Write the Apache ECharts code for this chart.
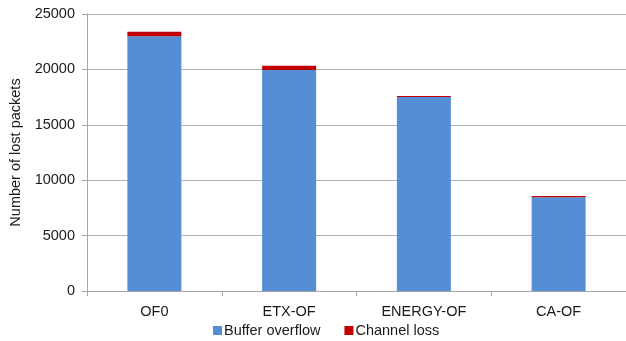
<!DOCTYPE html>
<html>
<head>
<meta charset="utf-8">
<script src="https://cdn.jsdelivr.net/npm/echarts@6/dist/echarts.min.js"></script>
<style>
  html, body { margin: 0; padding: 0; background: #fff; }
  #chart { width: 626px; height: 341px; }
</style>
</head>
<body>
<div id="chart"></div>
<script>
// Lost packets per objective function, split by cause
const categories = ['OF0', 'ETX-OF', 'ENERGY-OF', 'CA-OF'];
const bufferOverflow = [23000, 19950, 17500, 8450];
const channelLoss = [400, 390, 100, 120];
const yTicks = { min: 0, max: 25000, interval: 5000 };

const font = 'Liberation Sans, Arial, sans-serif';
const fontSize = 14.5;
const textColor = '#1a1a1a';
const axisGray = '#a6a6a6';

const chart = echarts.init(document.getElementById('chart'), null, { renderer: 'canvas' });
chart.setOption({
  animation: false,
  backgroundColor: '#fff',
  textStyle: { fontFamily: font },
  grid: { left: 87, top: 14, width: 541, height: 277, containLabel: false },
  legend: {
    left: 208,
    top: 318,
    itemWidth: 9,
    itemHeight: 9,
    itemGap: 24,
    icon: 'rect',
    textStyle: { fontFamily: font, fontSize: fontSize, color: textColor, padding: [0, 0, 0, -3] },
    data: ['Buffer overflow', 'Channel loss']
  },
  xAxis: {
    type: 'category',
    data: categories,
    axisLine: { lineStyle: { color: axisGray, width: 1 } },
    axisTick: { show: true, length: 5, lineStyle: { color: axisGray } },
    axisLabel: { fontFamily: font, fontSize: fontSize, color: textColor, margin: 13 }
  },
  yAxis: {
    type: 'value',
    min: yTicks.min,
    max: yTicks.max,
    interval: yTicks.interval,
    name: 'Number of lost packets',
    nameLocation: 'middle',
    nameGap: 62,
    nameTextStyle: { fontFamily: font, fontSize: fontSize, color: textColor },
    axisLine: { show: true, lineStyle: { color: axisGray, width: 1 } },
    axisTick: { show: true, length: 5, lineStyle: { color: axisGray } },
    axisLabel: { fontFamily: font, fontSize: fontSize, color: textColor, margin: 12, formatter: v => String(v) },
    splitLine: { show: true, lineStyle: { color: '#b0b0b0', width: 1 } }
  },
  series: [
    {
      name: 'Buffer overflow',
      type: 'bar',
      stack: 'loss',
      barWidth: 54,
      itemStyle: { color: '#558ed5' },
      data: bufferOverflow
    },
    {
      name: 'Channel loss',
      type: 'bar',
      stack: 'loss',
      barWidth: 54,
      itemStyle: { color: '#c00000' },
      data: channelLoss
    }
  ]
});
</script>
</body>
</html>
